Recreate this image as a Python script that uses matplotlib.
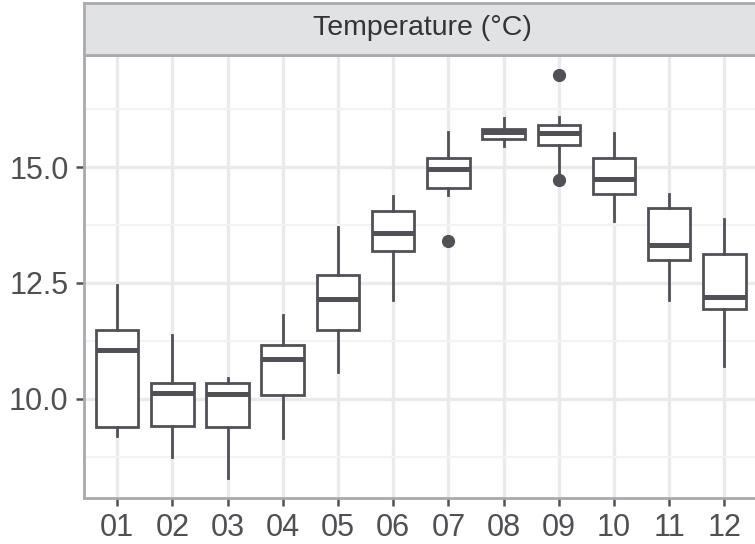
import matplotlib
matplotlib.use("Agg")
import matplotlib.pyplot as plt
from matplotlib.ticker import MultipleLocator

# Monthly temperature summaries (°C)
months = ["01", "02", "03", "04", "05", "06", "07", "08", "09", "10", "11", "12"]
whisker_low = [9.20, 8.74, 8.29, 9.15, 10.57, 12.13, 14.40, 15.45, 14.81, 13.84, 12.13, 10.70]
q1 = [9.38, 9.42, 9.38, 10.08, 11.49, 13.20, 14.56, 15.60, 15.49, 14.42, 13.00, 11.93]
median = [11.06, 10.13, 10.10, 10.85, 12.15, 13.57, 14.97, 15.77, 15.73, 14.74, 13.33, 12.20]
q3 = [11.49, 10.35, 10.35, 11.17, 12.67, 14.06, 15.19, 15.83, 15.91, 15.20, 14.13, 13.13]
whisker_high = [12.45, 11.38, 10.45, 11.81, 13.70, 14.38, 15.76, 16.06, 16.09, 15.73, 14.43, 13.88]
outliers = [[], [], [], [], [], [], [13.40], [], [16.99, 14.73], [], [], []]

W, H, DPI = 755, 544, 100
fig = plt.figure(figsize=(W / DPI, H / DPI), dpi=DPI)
fig.patch.set_facecolor("white")

BOX = "#505057"
BORDER = "#a9a9ae"
TEXT = "#4f4f54"

# panel in pixel coordinates (left, top, right, bottom)
pl, pt, pr, pb = 84, 55, 757.5, 498
ax = fig.add_axes([pl / W, 1 - pb / H, (pr - pl) / W, (pb - pt) / H])

stats = []
for i, m in enumerate(months):
    stats.append(dict(label=m, med=median[i], q1=q1[i], q3=q3[i],
                      whislo=whisker_low[i], whishi=whisker_high[i],
                      fliers=outliers[i]))

positions = list(range(1, len(months) + 1))
ax.bxp(stats, positions=positions, widths=0.77, patch_artist=True,
       showcaps=False,
       boxprops=dict(facecolor="white", edgecolor=BOX, linewidth=2.0),
       medianprops=dict(color=BOX, linewidth=3.6, solid_capstyle="butt"),
       whiskerprops=dict(color=BOX, linewidth=2.0),
       flierprops=dict(marker="o", markerfacecolor=BOX, markeredgecolor=BOX,
                       markersize=8.5),
       zorder=3)

ax.set_xlim(0.4, 12.6)
lo, hi = 8.29, 16.99
pad = (hi - lo) * 0.05
ax.set_ylim(lo - pad, hi + pad)

ax.yaxis.set_major_locator(MultipleLocator(2.5))
ax.yaxis.set_minor_locator(MultipleLocator(1.25))
ax.set_yticks([10.0, 12.5, 15.0])
ax.set_yticklabels(["10.0", "12.5", "15.0"])
ax.set_xticks(positions)
ax.set_xticklabels(months)

ax.set_axisbelow(True)
ax.grid(which="major", color="#eaeaea", linewidth=2.4)
ax.grid(which="minor", axis="y", color="#f3f3f3", linewidth=1.6)
ax.set_facecolor("white")

for s in ax.spines.values():
    s.set_color(BORDER)
    s.set_linewidth(2.0)

ax.tick_params(axis="both", which="major", length=6, width=1.8, color=BOX,
               labelsize=22, labelcolor=TEXT, pad=5)
ax.tick_params(axis="y", which="minor", length=0)
for lab in ax.get_xticklabels() + ax.get_yticklabels():
    lab.set_family(["Liberation Sans", "DejaVu Sans"])

# facet strip above the panel
sax = fig.add_axes([pl / W, 1 - pt / H, (pr - pl) / W, (pt - 3) / H])
sax.set_facecolor("#e1e2e4")
sax.set_xticks([])
sax.set_yticks([])
for s in sax.spines.values():
    s.set_color(BORDER)
    s.set_linewidth(2.0)
sax.text((422 - pl) / (pr - pl), 0.52, "Temperature (°C)", transform=sax.transAxes,
         ha="center", va="center", fontsize=20.5, color="#333338",
         family=["Liberation Sans", "DejaVu Sans"])

fig.savefig("out.png", dpi=DPI)
